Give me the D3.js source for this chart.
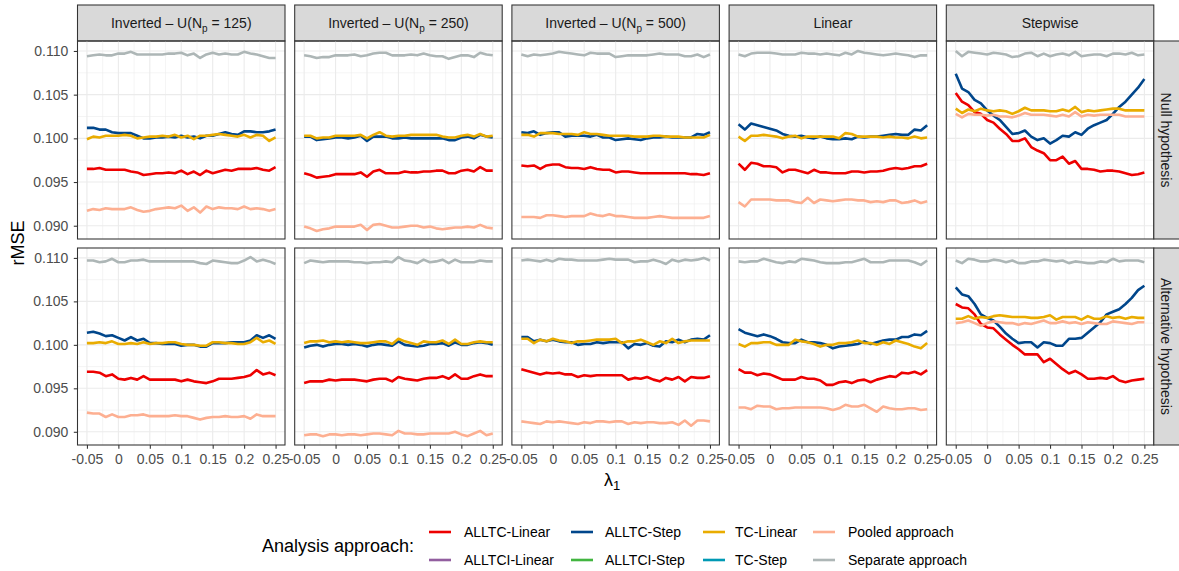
<!DOCTYPE html>
<html><head><meta charset="utf-8">
<script src="https://cdn.jsdelivr.net/npm/d3@7"></script>
<style>body{margin:0;background:#fff}svg{display:block}text{font-family:"Liberation Sans",Arial,Helvetica,sans-serif}</style>
</head><body><svg id="c" width="1179" height="571"></svg>
<script>
// ---------------- data ----------------
const lambda1 = [-0.05,-0.04,-0.03,-0.02,-0.01,0,0.01,0.02,0.03,0.04,0.05,0.06,0.07,0.08,0.09,0.10,0.11,0.12,0.13,0.14,0.15,0.16,0.17,0.18,0.19,0.20,0.21,0.22,0.23,0.24,0.25];
const xTickValues = [-0.05,0,0.05,0.1,0.15,0.2,0.25];
const xTickLabels = ["-0.05","0","0.05","0.1","0.15","0.2","0.25"];
const yTickValues = [0.090,0.095,0.100,0.105,0.110];
const yTickLabels = ["0.090","0.095","0.100","0.105","0.110"];
const scenarios = ["iu125","iu250","iu500","linear","stepwise"];
const hypotheses = ["Null hypothesis","Alternative hypothesis"];
const plottedSeries = ["ALLTC-Linear","ALLTC-Step","TC-Linear","Pooled approach","Separate approach"];
const legendNames = ["ALLTC-Linear","ALLTCI-Linear","ALLTC-Step","ALLTCI-Step","TC-Linear","TC-Step","Pooled approach","Separate approach"];
const legendColors = ["#ED0000","#925E9F","#00468B","#42B540","#E9AC00","#0099B4","#FDAF91","#ADB6B6"];

// Inverted-U (Np=125), null
const iu125_null_alltcLinear = [0.0965,0.0965,0.0966,0.0964,0.0964,0.0964,0.0964,0.0962,0.0961,0.0958,0.0959,0.0960,0.0960,0.0961,0.0960,0.0963,0.0959,0.0962,0.0958,0.0963,0.0960,0.0962,0.0964,0.0963,0.0965,0.0965,0.0965,0.0966,0.0964,0.0963,0.0967];
const iu125_null_alltcStep = [0.1012,0.1012,0.1010,0.1010,0.1007,0.1006,0.1006,0.1006,0.1003,0.1000,0.1000,0.1001,0.1001,0.1002,0.1001,0.1003,0.1001,0.1002,0.1000,0.1003,0.1003,0.1005,0.1007,0.1005,0.1004,0.1008,0.1008,0.1007,0.1007,0.1008,0.1010];
const iu125_null_tcLinear = [0.0999,0.1002,0.1001,0.1003,0.1003,0.1003,0.1004,0.1003,0.1000,0.1001,0.1002,0.1002,0.1003,0.1002,0.1004,0.1001,0.1003,0.0999,0.1003,0.1003,0.1004,0.1005,0.1004,0.1003,0.1002,0.1004,0.1001,0.1004,0.1003,0.0997,0.1001];
const iu125_null_pooled = [0.0917,0.0919,0.0918,0.0920,0.0919,0.0919,0.0919,0.0921,0.0918,0.0916,0.0917,0.0919,0.0920,0.0921,0.0920,0.0923,0.0917,0.0921,0.0915,0.0922,0.0919,0.0921,0.0920,0.0920,0.0919,0.0922,0.0919,0.0920,0.0919,0.0917,0.0919];
const iu125_null_separate = [0.1094,0.1095,0.1096,0.1095,0.1095,0.1097,0.1097,0.1099,0.1096,0.1096,0.1096,0.1096,0.1096,0.1097,0.1097,0.1098,0.1095,0.1097,0.1092,0.1096,0.1098,0.1096,0.1097,0.1096,0.1096,0.1099,0.1097,0.1096,0.1094,0.1092,0.1092];
// Inverted-U (Np=125), alternative
const iu125_alt_alltcLinear = [0.0969,0.0969,0.0968,0.0964,0.0966,0.0961,0.0960,0.0962,0.0960,0.0964,0.0960,0.0960,0.0960,0.0960,0.0960,0.0958,0.0960,0.0958,0.0957,0.0956,0.0958,0.0961,0.0961,0.0961,0.0962,0.0963,0.0965,0.0971,0.0966,0.0968,0.0965];
const iu125_alt_alltcStep = [0.1014,0.1015,0.1013,0.1010,0.1011,0.1008,0.1005,0.1009,0.1005,0.1007,0.1002,0.1002,0.1001,0.1001,0.1001,0.0999,0.1000,0.1000,0.0998,0.0998,0.1002,0.1002,0.1002,0.1003,0.1003,0.1003,0.1005,0.1011,0.1008,0.1011,0.1007];
const iu125_alt_tcLinear = [0.1002,0.1002,0.1003,0.1002,0.1004,0.1001,0.1001,0.1002,0.1001,0.1003,0.1001,0.1002,0.1002,0.1003,0.1003,0.1001,0.1000,0.1000,0.0999,0.0999,0.1003,0.1003,0.1002,0.1002,0.1001,0.1001,0.1003,0.1008,0.1003,0.1005,0.1001];
const iu125_alt_pooled = [0.0922,0.0921,0.0921,0.0917,0.0920,0.0917,0.0917,0.0919,0.0919,0.0920,0.0918,0.0918,0.0918,0.0918,0.0919,0.0918,0.0918,0.0916,0.0914,0.0916,0.0917,0.0917,0.0918,0.0917,0.0917,0.0918,0.0915,0.0920,0.0918,0.0918,0.0918];
const iu125_alt_separate = [0.1097,0.1097,0.1095,0.1096,0.1099,0.1095,0.1095,0.1097,0.1097,0.1098,0.1096,0.1096,0.1096,0.1096,0.1096,0.1096,0.1096,0.1096,0.1094,0.1093,0.1097,0.1096,0.1095,0.1094,0.1094,0.1097,0.1101,0.1096,0.1098,0.1096,0.1093];
// Inverted-U (Np=250), null
const iu250_null_alltcLinear = [0.0960,0.0958,0.0955,0.0956,0.0957,0.0959,0.0959,0.0959,0.0959,0.0961,0.0956,0.0962,0.0964,0.0960,0.0960,0.0960,0.0962,0.0961,0.0961,0.0962,0.0962,0.0963,0.0963,0.0960,0.0960,0.0963,0.0964,0.0962,0.0967,0.0963,0.0963];
const iu250_null_alltcStep = [0.1002,0.1002,0.0998,0.0999,0.1000,0.1001,0.1001,0.1000,0.1001,0.1003,0.0997,0.1002,0.1002,0.1002,0.1000,0.1000,0.1001,0.1000,0.1000,0.1000,0.1000,0.1000,0.1000,0.0998,0.0998,0.1001,0.1002,0.1000,0.1004,0.1002,0.1001];
const iu250_null_tcLinear = [0.1003,0.1003,0.1000,0.1001,0.1001,0.1003,0.1003,0.1003,0.1003,0.1004,0.1000,0.1004,0.1007,0.1003,0.1002,0.1003,0.1003,0.1004,0.1004,0.1004,0.1004,0.1004,0.1002,0.1001,0.1001,0.1003,0.1004,0.1002,0.1005,0.1002,0.1003];
const iu250_null_pooled = [0.0899,0.0897,0.0894,0.0896,0.0897,0.0899,0.0899,0.0899,0.0899,0.0901,0.0895,0.0901,0.0902,0.0900,0.0898,0.0898,0.0899,0.0900,0.0900,0.0898,0.0899,0.0897,0.0896,0.0897,0.0898,0.0898,0.0899,0.0898,0.0901,0.0898,0.0897];
const iu250_null_separate = [0.1095,0.1094,0.1092,0.1093,0.1093,0.1095,0.1095,0.1095,0.1096,0.1094,0.1095,0.1097,0.1098,0.1098,0.1095,0.1095,0.1095,0.1096,0.1095,0.1097,0.1095,0.1094,0.1094,0.1091,0.1093,0.1095,0.1095,0.1093,0.1098,0.1096,0.1095];
// Inverted-U (Np=250), alternative
const iu250_alt_alltcLinear = [0.0956,0.0958,0.0958,0.0958,0.0960,0.0959,0.0960,0.0960,0.0960,0.0959,0.0958,0.0960,0.0961,0.0961,0.0958,0.0963,0.0961,0.0960,0.0959,0.0961,0.0962,0.0962,0.0964,0.0961,0.0966,0.0961,0.0961,0.0964,0.0966,0.0964,0.0964];
const iu250_alt_alltcStep = [0.0997,0.0999,0.1000,0.0998,0.1000,0.1001,0.1001,0.1000,0.1001,0.1000,0.0998,0.1000,0.1001,0.1000,0.0999,0.1004,0.1000,0.0999,0.0998,0.0999,0.1001,0.1001,0.1002,0.0999,0.1003,0.1000,0.1000,0.1002,0.1003,0.1002,0.1000];
const iu250_alt_tcLinear = [0.1002,0.1004,0.1004,0.1005,0.1003,0.1004,0.1003,0.1004,0.1003,0.1002,0.1002,0.1003,0.1004,0.1004,0.1001,0.1007,0.1004,0.1002,0.1000,0.1004,0.1003,0.1003,0.1005,0.1001,0.1006,0.1001,0.1001,0.1003,0.1004,0.1003,0.1003];
const iu250_alt_pooled = [0.0896,0.0897,0.0897,0.0895,0.0897,0.0897,0.0896,0.0897,0.0897,0.0896,0.0897,0.0898,0.0898,0.0897,0.0896,0.0901,0.0898,0.0898,0.0897,0.0897,0.0898,0.0898,0.0898,0.0898,0.0900,0.0897,0.0895,0.0898,0.0901,0.0896,0.0898];
const iu250_alt_separate = [0.1094,0.1097,0.1096,0.1095,0.1096,0.1096,0.1096,0.1096,0.1095,0.1095,0.1094,0.1095,0.1095,0.1096,0.1095,0.1101,0.1097,0.1096,0.1094,0.1098,0.1095,0.1096,0.1098,0.1094,0.1098,0.1095,0.1095,0.1095,0.1097,0.1096,0.1096];
// Inverted-U (Np=500), null
const iu500_null_alltcLinear = [0.0969,0.0968,0.0969,0.0965,0.0969,0.0970,0.0970,0.0967,0.0966,0.0966,0.0965,0.0967,0.0965,0.0964,0.0964,0.0961,0.0962,0.0962,0.0961,0.0960,0.0960,0.0960,0.0960,0.0960,0.0960,0.0960,0.0960,0.0959,0.0959,0.0958,0.0960];
const iu500_null_alltcStep = [0.1007,0.1006,0.1008,0.1004,0.1006,0.1007,0.1007,0.1002,0.1003,0.1003,0.1003,0.1002,0.1004,0.1001,0.1001,0.0998,0.0999,0.1000,0.0999,0.0998,0.1000,0.1001,0.1001,0.1002,0.1001,0.1001,0.1001,0.1001,0.1005,0.1004,0.1007];
const iu500_null_tcLinear = [0.1004,0.1004,0.1002,0.1006,0.1006,0.1006,0.1005,0.1005,0.1005,0.1004,0.1007,0.1005,0.1005,0.1004,0.1003,0.1003,0.1003,0.1003,0.1002,0.1002,0.1002,0.1003,0.1003,0.1002,0.1002,0.1002,0.1001,0.1001,0.1001,0.1001,0.1004];
const iu500_null_pooled = [0.0910,0.0910,0.0910,0.0909,0.0912,0.0912,0.0911,0.0910,0.0911,0.0911,0.0911,0.0914,0.0912,0.0911,0.0913,0.0911,0.0911,0.0910,0.0909,0.0909,0.0909,0.0910,0.0911,0.0910,0.0909,0.0909,0.0909,0.0909,0.0909,0.0909,0.0911];
const iu500_null_separate = [0.1096,0.1094,0.1096,0.1095,0.1096,0.1097,0.1099,0.1098,0.1097,0.1096,0.1095,0.1098,0.1097,0.1097,0.1097,0.1093,0.1094,0.1095,0.1095,0.1095,0.1095,0.1096,0.1097,0.1096,0.1096,0.1096,0.1094,0.1094,0.1096,0.1093,0.1096];
// Inverted-U (Np=500), alternative
const iu500_alt_alltcLinear = [0.0972,0.0970,0.0968,0.0966,0.0968,0.0967,0.0968,0.0966,0.0966,0.0963,0.0965,0.0964,0.0965,0.0965,0.0965,0.0965,0.0965,0.0960,0.0962,0.0961,0.0963,0.0960,0.0958,0.0962,0.0960,0.0963,0.0958,0.0963,0.0962,0.0962,0.0964];
const iu500_alt_alltcStep = [0.1009,0.1009,0.1004,0.1006,0.1004,0.1006,0.1004,0.1003,0.1003,0.1000,0.1001,0.1001,0.1003,0.1002,0.1003,0.1003,0.1003,0.0996,0.1001,0.1000,0.1002,0.0999,0.0998,0.1004,0.1003,0.1006,0.1003,0.1006,0.1007,0.1006,0.1011];
const iu500_alt_tcLinear = [0.1007,0.1007,0.1002,0.1006,0.1004,0.1007,0.1005,0.1004,0.1002,0.1004,0.1004,0.1005,0.1006,0.1006,0.1006,0.1007,0.1002,0.1004,0.1004,0.1006,0.1003,0.1000,0.1004,0.1002,0.1007,0.1002,0.1004,0.1005,0.1005,0.1005,0.1005];
const iu500_alt_pooled = [0.0912,0.0911,0.0910,0.0909,0.0912,0.0911,0.0912,0.0911,0.0910,0.0909,0.0911,0.0910,0.0912,0.0912,0.0911,0.0912,0.0912,0.0909,0.0911,0.0910,0.0911,0.0911,0.0910,0.0910,0.0911,0.0908,0.0913,0.0907,0.0913,0.0913,0.0912];
const iu500_alt_separate = [0.1097,0.1098,0.1097,0.1096,0.1098,0.1096,0.1099,0.1098,0.1098,0.1097,0.1097,0.1097,0.1097,0.1098,0.1099,0.1098,0.1098,0.1098,0.1095,0.1096,0.1096,0.1098,0.1096,0.1093,0.1098,0.1096,0.1098,0.1097,0.1098,0.1100,0.1097];
// Linear, null
const lin_null_alltcLinear = [0.0971,0.0964,0.0972,0.0971,0.0968,0.0968,0.0967,0.0961,0.0964,0.0964,0.0962,0.0960,0.0964,0.0961,0.0961,0.0960,0.0960,0.0960,0.0962,0.0962,0.0961,0.0962,0.0962,0.0963,0.0965,0.0966,0.0965,0.0966,0.0968,0.0968,0.0971];
const lin_null_alltcStep = [0.1016,0.1010,0.1017,0.1015,0.1013,0.1011,0.1009,0.1005,0.1003,0.1002,0.1003,0.1001,0.1000,0.1002,0.1000,0.0999,0.0999,0.1000,0.0999,0.1002,0.1001,0.1002,0.1002,0.1003,0.1004,0.1005,0.1004,0.1004,0.1010,0.1009,0.1015];
const lin_null_tcLinear = [0.1002,0.0997,0.1003,0.1003,0.1004,0.1003,0.1002,0.1000,0.1002,0.1003,0.1000,0.1002,0.1002,0.1002,0.1002,0.1002,0.1000,0.1006,0.1005,0.1002,0.1002,0.1002,0.1002,0.1001,0.1002,0.1001,0.1001,0.1000,0.1002,0.1000,0.1001];
const lin_null_pooled = [0.0927,0.0922,0.0930,0.0930,0.0930,0.0930,0.0929,0.0929,0.0929,0.0927,0.0926,0.0932,0.0926,0.0930,0.0929,0.0928,0.0929,0.0930,0.0930,0.0929,0.0929,0.0927,0.0928,0.0927,0.0929,0.0929,0.0926,0.0927,0.0929,0.0926,0.0928];
const lin_null_separate = [0.1096,0.1094,0.1097,0.1098,0.1098,0.1098,0.1097,0.1096,0.1096,0.1096,0.1098,0.1097,0.1097,0.1096,0.1097,0.1096,0.1095,0.1098,0.1096,0.1100,0.1098,0.1097,0.1096,0.1095,0.1096,0.1097,0.1096,0.1095,0.1093,0.1095,0.1095];
// Linear, alternative
const lin_alt_alltcLinear = [0.0972,0.0968,0.0968,0.0965,0.0967,0.0966,0.0963,0.0960,0.0960,0.0960,0.0963,0.0961,0.0961,0.0959,0.0954,0.0954,0.0957,0.0958,0.0956,0.0959,0.0960,0.0957,0.0960,0.0962,0.0964,0.0963,0.0968,0.0967,0.0969,0.0966,0.0971];
const lin_alt_alltcStep = [0.1018,0.1014,0.1012,0.1010,0.1012,0.1010,0.1007,0.1003,0.1002,0.1002,0.1006,0.1003,0.1003,0.1002,0.1000,0.0996,0.0998,0.0999,0.1000,0.1001,0.1004,0.1001,0.1003,0.1005,0.1006,0.1006,0.1009,0.1009,0.1012,0.1011,0.1016];
const lin_alt_tcLinear = [0.1001,0.0998,0.1002,0.1002,0.1003,0.1003,0.1000,0.1000,0.1000,0.1006,0.1004,0.1003,0.1001,0.0998,0.1000,0.1000,0.1002,0.1002,0.1003,0.1005,0.1002,0.1002,0.1000,0.1003,0.1001,0.1005,0.1003,0.1001,0.0998,0.0996,0.1002];
const lin_alt_pooled = [0.0928,0.0928,0.0926,0.0930,0.0929,0.0929,0.0926,0.0927,0.0927,0.0928,0.0928,0.0928,0.0928,0.0928,0.0927,0.0925,0.0927,0.0931,0.0929,0.0929,0.0931,0.0927,0.0923,0.0929,0.0927,0.0926,0.0926,0.0927,0.0927,0.0925,0.0926];
const lin_alt_separate = [0.1096,0.1095,0.1096,0.1096,0.1099,0.1097,0.1095,0.1094,0.1096,0.1095,0.1099,0.1098,0.1097,0.1095,0.1094,0.1094,0.1094,0.1095,0.1095,0.1097,0.1099,0.1095,0.1095,0.1095,0.1097,0.1097,0.1097,0.1097,0.1095,0.1092,0.1097];
// Stepwise, null
const step_null_alltcLinear = [0.1052,0.1042,0.1038,0.1030,0.1028,0.1021,0.1018,0.1011,0.1005,0.0997,0.0997,0.1000,0.0990,0.0986,0.0983,0.0975,0.0975,0.0979,0.0971,0.0974,0.0965,0.0965,0.0964,0.0962,0.0963,0.0963,0.0962,0.0960,0.0958,0.0959,0.0961];
const step_null_alltcStep = [0.1074,0.1057,0.1053,0.1044,0.1040,0.1032,0.1026,0.1021,0.1013,0.1005,0.1006,0.1009,0.1002,0.0998,0.1000,0.0994,0.0998,0.1003,0.1002,0.1007,0.1004,0.1011,0.1015,0.1018,0.1021,0.1028,0.1036,0.1042,0.1050,0.1058,0.1068];
const step_null_tcLinear = [0.1034,0.1029,0.1033,0.1031,0.1034,0.1032,0.1031,0.1032,0.1031,0.1028,0.1031,0.1035,0.1032,0.1032,0.1032,0.1031,0.1031,0.1033,0.1031,0.1036,0.1030,0.1032,0.1031,0.1032,0.1033,0.1034,0.1034,0.1032,0.1032,0.1032,0.1032];
const step_null_pooled = [0.1028,0.1024,0.1028,0.1027,0.1027,0.1026,0.1027,0.1025,0.1025,0.1024,0.1026,0.1029,0.1027,0.1027,0.1027,0.1026,0.1025,0.1027,0.1025,0.1030,0.1025,0.1027,0.1026,0.1027,0.1027,0.1027,0.1027,0.1025,0.1025,0.1025,0.1025];
const step_null_separate = [0.1100,0.1094,0.1099,0.1098,0.1097,0.1096,0.1098,0.1097,0.1096,0.1093,0.1094,0.1097,0.1098,0.1094,0.1097,0.1094,0.1096,0.1097,0.1095,0.1099,0.1094,0.1095,0.1096,0.1096,0.1094,0.1097,0.1097,0.1096,0.1098,0.1095,0.1096];
// Stepwise, alternative
const step_alt_alltcLinear = [0.1047,0.1043,0.1042,0.1035,0.1024,0.1020,0.1019,0.1012,0.1006,0.1000,0.0995,0.0989,0.0989,0.0989,0.0980,0.0984,0.0978,0.0972,0.0967,0.0970,0.0966,0.0961,0.0961,0.0962,0.0961,0.0964,0.0959,0.0957,0.0959,0.0960,0.0961];
const step_alt_alltcStep = [0.1066,0.1058,0.1056,0.1047,0.1035,0.1031,0.1028,0.1021,0.1013,0.1007,0.1002,0.1003,0.1003,0.0997,0.1003,0.1002,0.0999,0.0999,0.1007,0.1007,0.1008,0.1014,0.1020,0.1026,0.1035,0.1038,0.1041,0.1047,0.1054,0.1063,0.1068];
const step_alt_tcLinear = [0.1030,0.1030,0.1033,0.1030,0.1032,0.1031,0.1033,0.1034,0.1033,0.1032,0.1032,0.1032,0.1031,0.1031,0.1032,0.1034,0.1029,0.1032,0.1032,0.1032,0.1029,0.1033,0.1030,0.1030,0.1033,0.1031,0.1032,0.1030,0.1032,0.1031,0.1031];
const step_alt_pooled = [0.1025,0.1026,0.1028,0.1025,0.1022,0.1025,0.1027,0.1026,0.1025,0.1025,0.1023,0.1025,0.1024,0.1026,0.1028,0.1025,0.1025,0.1027,0.1025,0.1026,0.1024,0.1026,0.1025,0.1024,0.1024,0.1027,0.1026,0.1025,0.1024,0.1026,0.1026];
const step_alt_separate = [0.1097,0.1094,0.1099,0.1098,0.1096,0.1096,0.1098,0.1097,0.1095,0.1097,0.1094,0.1094,0.1096,0.1096,0.1098,0.1097,0.1096,0.1097,0.1094,0.1096,0.1095,0.1094,0.1094,0.1096,0.1095,0.1099,0.1096,0.1097,0.1097,0.1097,0.1095];

// ---------------- assemble panels ----------------
const seriesColor = {"ALLTC-Linear":"#ED0000","ALLTC-Step":"#00468B","TC-Linear":"#E9AC00","Pooled approach":"#FDAF91","Separate approach":"#ADB6B6"};
const panelData = {
  iu125: [[iu125_null_alltcLinear,iu125_null_alltcStep,iu125_null_tcLinear,iu125_null_pooled,iu125_null_separate],
          [iu125_alt_alltcLinear,iu125_alt_alltcStep,iu125_alt_tcLinear,iu125_alt_pooled,iu125_alt_separate]],
  iu250: [[iu250_null_alltcLinear,iu250_null_alltcStep,iu250_null_tcLinear,iu250_null_pooled,iu250_null_separate],
          [iu250_alt_alltcLinear,iu250_alt_alltcStep,iu250_alt_tcLinear,iu250_alt_pooled,iu250_alt_separate]],
  iu500: [[iu500_null_alltcLinear,iu500_null_alltcStep,iu500_null_tcLinear,iu500_null_pooled,iu500_null_separate],
          [iu500_alt_alltcLinear,iu500_alt_alltcStep,iu500_alt_tcLinear,iu500_alt_pooled,iu500_alt_separate]],
  linear: [[lin_null_alltcLinear,lin_null_alltcStep,lin_null_tcLinear,lin_null_pooled,lin_null_separate],
           [lin_alt_alltcLinear,lin_alt_alltcStep,lin_alt_tcLinear,lin_alt_pooled,lin_alt_separate]],
  stepwise: [[step_null_alltcLinear,step_null_alltcStep,step_null_tcLinear,step_null_pooled,step_null_separate],
             [step_alt_alltcLinear,step_alt_alltcStep,step_alt_tcLinear,step_alt_pooled,step_alt_separate]]
};

// ---------------- layout ----------------
const svg = d3.select("#c");
svg.append("rect").attr("width",1179).attr("height",571).attr("fill","#fff");
const panelX0 = 77.5, panelStep = 217.2, panelW = 207.5;
const rowTop = [41, 248], rowH = [198, 197];
const stripTop = 5;
const border = "#333333", gridCol = "#EBEBEB", tickText = "#4D4D4D";

const x = d3.scaleLinear().domain([-0.065, 0.265]);
const yDomain = [0.08848, 0.11114];

function stripLabel(g, key, cx, cy) {
  const t = g.append("text").attr("x", cx).attr("y", cy).attr("text-anchor","middle")
    .attr("font-size", 14).attr("fill", "#1A1A1A");
  if (key.startsWith("iu")) {
    const n = key.slice(2);
    t.append("tspan").text("Inverted \u2013 U(N");
    t.append("tspan").attr("dy", 4).attr("font-size", 10).text("p");
    t.append("tspan").attr("dy", -4).text(" = " + n + ")");
  } else {
    t.text(key === "linear" ? "Linear" : "Stepwise");
  }
}

scenarios.forEach((key, ci) => {
  const px = panelX0 + ci * panelStep;
  const xs = x.copy().range([px, px + panelW]);
  // top strip
  svg.append("rect").attr("x", px).attr("y", stripTop).attr("width", panelW).attr("height", rowTop[0] - stripTop)
    .attr("fill", "#D9D9D9").attr("stroke", border).attr("stroke-width", 1.07);
  stripLabel(svg, key, px + panelW / 2, 28);

  hypotheses.forEach((hyp, ri) => {
    const py = rowTop[ri], ph = rowH[ri];
    const ys = d3.scaleLinear().domain(yDomain).range([py + ph, py]);
    const g = svg.append("g");
    // minor grid
    const xMinor = xTickValues.slice(0, -1).map((v, i) => (v + xTickValues[i + 1]) / 2);
    const yMinor = yTickValues.slice(0, -1).map((v, i) => (v + yTickValues[i + 1]) / 2);
    g.selectAll(".xmin").data(xMinor).join("line").attr("x1", d => xs(d)).attr("x2", d => xs(d))
      .attr("y1", py).attr("y2", py + ph).attr("stroke", gridCol).attr("stroke-width", 0.55);
    g.selectAll(".ymin").data(yMinor).join("line").attr("y1", d => ys(d)).attr("y2", d => ys(d))
      .attr("x1", px).attr("x2", px + panelW).attr("stroke", gridCol).attr("stroke-width", 0.55);
    g.selectAll(".xmaj").data(xTickValues).join("line").attr("x1", d => xs(d)).attr("x2", d => xs(d))
      .attr("y1", py).attr("y2", py + ph).attr("stroke", gridCol).attr("stroke-width", 1.1);
    g.selectAll(".ymaj").data(yTickValues).join("line").attr("y1", d => ys(d)).attr("y2", d => ys(d))
      .attr("x1", px).attr("x2", px + panelW).attr("stroke", gridCol).attr("stroke-width", 1.1);
    // lines
    const line = d3.line().x((d, i) => xs(lambda1[i])).y(d => ys(d)).curve(d3.curveLinear);
    panelData[key][ri].forEach((arr, si) => {
      g.append("path").datum(arr).attr("d", line).attr("fill", "none")
        .attr("stroke", seriesColor[plottedSeries[si]]).attr("stroke-width", 2.6)
        .attr("stroke-linejoin", "round").attr("stroke-linecap", "butt");
    });
    // border
    g.append("rect").attr("x", px).attr("y", py).attr("width", panelW).attr("height", ph)
      .attr("fill", "none").attr("stroke", border).attr("stroke-width", 1.07);
    // y axis
    if (ci === 0) {
      const ax = svg.append("g").attr("transform", `translate(${px},0)`)
        .call(d3.axisLeft(ys).tickValues(yTickValues).tickFormat((d, i) => yTickLabels[i]).tickSize(3.7).tickPadding(5.5));
      ax.select(".domain").remove();
      ax.selectAll("line").attr("stroke", border).attr("stroke-width", 1.07);
      ax.selectAll("text").attr("fill", tickText).attr("font-size", 14).attr("font-family", null);
    }
    // x axis
    if (ri === 1) {
      const ax = svg.append("g").attr("transform", `translate(0,${py + ph})`)
        .call(d3.axisBottom(xs).tickValues(xTickValues).tickFormat((d, i) => xTickLabels[i]).tickSize(3.7).tickPadding(5));
      ax.select(".domain").remove();
      ax.selectAll("line").attr("stroke", border).attr("stroke-width", 1.07);
      ax.selectAll("text").attr("fill", tickText).attr("font-size", 14).attr("font-family", null);
    }
    // right strip
    if (ci === scenarios.length - 1) {
      const sx = px + panelW;
      svg.append("rect").attr("x", sx).attr("y", py).attr("width", 36).attr("height", ph)
        .attr("fill", "#D9D9D9").attr("stroke", border).attr("stroke-width", 1.07);
      svg.append("text").attr("transform", `translate(${sx + 12},${py + ph / 2}) rotate(90)`)
        .attr("text-anchor", "middle").attr("dy", "0.35em").attr("font-size", 14).attr("fill", "#1A1A1A").text(hyp);
    }
  });
});

// axis titles
svg.append("text").attr("transform", "translate(24,243) rotate(-90)").attr("text-anchor", "middle")
  .attr("font-size", 18).attr("fill", "#000").text("rMSE");
const xt = svg.append("text").attr("x", 612).attr("y", 486).attr("text-anchor", "middle").attr("font-size", 18).attr("fill", "#000");
xt.append("tspan").text("\u03bb");
xt.append("tspan").attr("dy", 4).attr("font-size", 13).text("1");

// legend
svg.append("text").attr("x", 262).attr("y", 552).attr("font-size", 18).attr("fill", "#000").text("Analysis approach:");
const legCols = [{k: 429, t: 464}, {k: 571, t: 605}, {k: 703, t: 735}, {k: 813, t: 848}];
const legRows = [532, 560];
legendNames.forEach((name, i) => {
  const c = legCols[Math.floor(i / 2)], r = legRows[i % 2];
  svg.append("line").attr("x1", c.k).attr("x2", c.k + 22).attr("y1", r).attr("y2", r)
    .attr("stroke", legendColors[i]).attr("stroke-width", 2.6);
  svg.append("text").attr("x", c.t).attr("y", r).attr("dy", "0.36em").attr("font-size", 14).attr("fill", "#000").text(name);
});
</script></body></html>
